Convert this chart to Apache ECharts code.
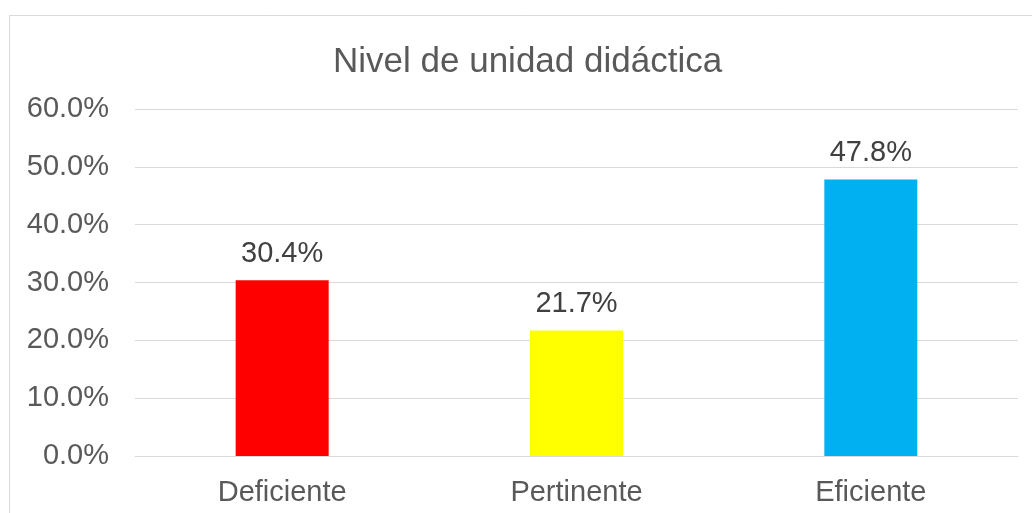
<!DOCTYPE html>
<html><head><meta charset="utf-8">
<script src="https://cdn.jsdelivr.net/npm/echarts@6/dist/echarts.min.js"></script>
<style>html,body{margin:0;padding:0;background:#fff}#c{width:1032px;height:513px}</style>
</head><body><div id="c"></div>
<script>
const categories = ['Deficiente', 'Pertinente', 'Eficiente'];
const values = [30.4, 21.7, 47.8];
const barColors = ['#FF0000', '#FFFF00', '#00B0F0'];
const titleText = 'Nivel de unidad didáctica';

const chart = echarts.init(document.getElementById('c'), null, {renderer: 'canvas'});
const font = '"Liberation Sans", Arial, sans-serif';
chart.setOption({
  animation: false,
  graphic: [{
    type: 'rect', silent: true,
    shape: {x: 9.5, y: 15.5, width: 1100, height: 600},
    style: {fill: 'none', stroke: '#d9d9d9', lineWidth: 1}
  }],
  title: {
    text: titleText, left: 328, top: 40,
    textStyle: {fontFamily: font, fontSize: 35, fontWeight: 'normal', color: '#595959'}
  },
  grid: {left: 135, right: 14, top: 109, bottom: 57, containLabel: false},
  xAxis: {
    type: 'category', data: categories,
    axisLine: {show: true, lineStyle: {color: '#d9d9d9', width: 1}},
    axisTick: {show: false},
    axisLabel: {fontFamily: font, fontSize: 29, color: '#595959', margin: 22}
  },
  yAxis: {
    type: 'value', min: 0, max: 60, interval: 10,
    axisLine: {show: false}, axisTick: {show: false},
    splitLine: {lineStyle: {color: '#d9d9d9', width: 1}},
    axisLabel: {fontFamily: font, fontSize: 29, color: '#595959', margin: 26,
      formatter: v => v.toFixed(1) + '%'}
  },
  series: [{
    type: 'bar', barWidth: 93,
    data: values.map((v, i) => ({value: v, itemStyle: {color: barColors[i]}})),
    label: {show: true, position: 'top', distance: 12, fontFamily: font, fontSize: 29, color: '#404040',
      formatter: p => p.value.toFixed(1) + '%'}
  }]
});
</script></body></html>
